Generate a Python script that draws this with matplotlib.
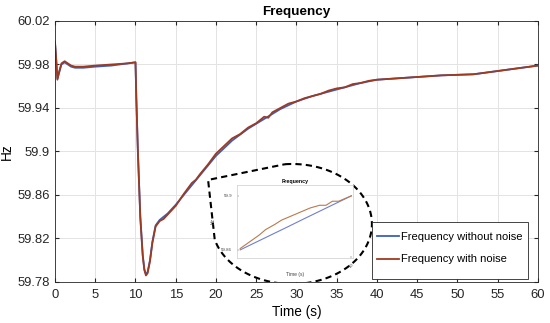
import numpy as np
import matplotlib
matplotlib.use("Agg")
import matplotlib.pyplot as plt
from matplotlib.patches import PathPatch, Rectangle
from matplotlib.path import Path

plt.rcParams['font.family'] = ['Liberation Sans', 'DejaVu Sans']

# main curves
t_clean = [0, 0.15, 0.3, 0.5, 0.8, 1.2, 1.6, 2.0, 2.5, 3.5, 5, 7, 9, 10, 10.1, 10.3,
           10.6, 10.9, 11.1, 11.3, 11.5, 11.8, 12.1, 12.5, 13, 14, 15, 16, 17, 18, 19, 20,
           22, 24, 26, 28, 30, 32, 34, 36, 38, 40, 42, 44, 46, 48, 50, 52, 54, 56, 58, 60]
f_clean = [60.000, 59.985, 59.967, 59.972, 59.980, 59.982, 59.980, 59.978, 59.977, 59.977,
           59.978, 59.979, 59.981, 59.982, 59.950, 59.900, 59.840, 59.805, 59.792, 59.787,
           59.789, 59.800, 59.817, 59.832, 59.837, 59.843, 59.851, 59.860, 59.869, 59.878,
           59.887, 59.896, 59.910, 59.921, 59.930, 59.939, 59.946, 59.951, 59.955, 59.959,
           59.963, 59.966, 59.967, 59.968, 59.969, 59.970, 59.9705, 59.971, 59.973, 59.975,
           59.977, 59.979]

t_noisy = [0, 0.15, 0.3, 0.5, 0.8, 1.2, 1.6, 2.0, 2.5, 3.5, 5, 7, 9, 10, 10.1, 10.3,
           10.6, 10.9, 11.1, 11.3, 11.5, 11.8, 12.1, 12.5, 13, 13.5, 14, 14.5, 15, 16, 17,
           17.5, 18, 19, 20, 21, 22, 23, 24, 25, 26, 26.5, 27, 28, 29, 30, 31, 32, 33, 34,
           35, 36, 37, 38, 39, 40, 42, 44, 46, 48, 50, 52, 54, 56, 58, 60]
f_noisy = [60.001, 59.984, 59.966, 59.973, 59.981, 59.983, 59.981, 59.979, 59.978, 59.978,
           59.979, 59.980, 59.981, 59.982, 59.950, 59.899, 59.839, 59.804, 59.791, 59.786,
           59.788, 59.799, 59.816, 59.831, 59.836, 59.838, 59.842, 59.846, 59.850, 59.861,
           59.871, 59.874, 59.879, 59.888, 59.898, 59.905, 59.912, 59.916, 59.922, 59.926,
           59.932, 59.931, 59.936, 59.940, 59.944, 59.946, 59.949, 59.951, 59.953, 59.956,
           59.958, 59.959, 59.962, 59.963, 59.965, 59.966, 59.967, 59.968, 59.969, 59.970,
           59.9705, 59.971, 59.973, 59.975, 59.977, 59.979]

# zoomed inset
ins_t = [16.5, 17, 17.5, 18, 18.5, 19, 19.5, 20]
ins_clean = [59.860, 59.8657, 59.8714, 59.8771, 59.8829, 59.8886, 59.8943, 59.900]
ins_t_n = [16.5, 16.8, 17.1, 17.3, 17.6, 17.8, 18.0, 18.3, 18.5, 18.7, 19.0, 19.2, 19.4, 19.6, 19.8, 20]
ins_noisy = [59.861, 59.866, 59.871, 59.875, 59.879, 59.882, 59.884, 59.887, 59.889, 59.891,
             59.893, 59.893, 59.896, 59.896, 59.898, 59.900]

blue = '#3a5fbf'
red = '#9e3a20'

fig = plt.figure(figsize=(5.5, 3.23), dpi=100)
ax = fig.add_axes([0.1, 0.127, 0.878, 0.808])

ax.plot(t_clean, f_clean, color=blue, lw=1.3, label='Frequency without noise')
ax.plot(t_noisy, f_noisy, color=red, lw=1.3, label='Frequency with noise')

ax.set_xlim(0, 60)
ax.set_ylim(59.78, 60.02)
ax.set_xticks(np.arange(0, 61, 5))
ax.set_yticks([59.78, 59.82, 59.86, 59.9, 59.94, 59.98, 60.02])
ax.set_yticklabels(['59.78', '59.82', '59.86', '59.9', '59.94', '59.98', '60.02'])
ax.tick_params(direction='in', top=True, right=True, labelsize=9.4, colors='#262626', length=3)
ax.tick_params(axis='x', pad=5)
ax.grid(True, color='#e3e3e3', lw=0.7)
for s in ax.spines.values():
    s.set_color('#262626')
    s.set_linewidth(0.6)
ax.set_title('Frequency', fontsize=9.7, fontweight='bold', pad=4)
ax.set_xlabel('Time (s)', fontsize=9.8, labelpad=3)
ax.set_ylabel('Hz', fontsize=9.8, labelpad=3)

# legend: frame drawn separately (tall box, narrow side padding like the original)
lx0, ly0, lx1, ly1 = 0.656, 0.0115, 0.979, 0.23
ax.add_patch(Rectangle((lx0, ly0), lx1 - lx0, ly1 - ly0, transform=ax.transAxes,
                       facecolor='white', edgecolor='#262626', lw=0.6, zorder=6))
leg = ax.legend(loc='center', bbox_to_anchor=(lx0, ly0 + 0.008, lx1 - lx0, ly1 - ly0),
                fontsize=8, frameon=False, handlelength=2.0, borderpad=0.3,
                labelspacing=1.1, handletextpad=0.2, borderaxespad=0)
leg.set_zorder(7)

# dashed bubble around the inset (axes fraction coords)
cx, cy, a, b = 0.4907, 0.2222, 0.1656, 0.2299
ang = np.radians(np.linspace(95, -165, 120))
xs = cx + a * np.cos(ang)
ys = cy + b * np.sin(ang)
verts = list(zip(xs, ys)) + [(0.317, 0.391), (xs[0], ys[0])]
bubble = PathPatch(Path(verts), transform=ax.transAxes, facecolor='white',
                   edgecolor='black', lw=1.5, ls=(0, (3, 2)), zorder=4)
ax.add_patch(bubble)

ins = fig.add_axes([237 / 550, 1 - 258 / 323, 116 / 550, 73 / 323], zorder=5)
ins.plot(ins_t, ins_clean, color='#6f7fd0', lw=0.8)
ins.plot(ins_t_n, ins_noisy, color='#b97a4c', lw=0.8)
ins.set_xlim(16.4, 20.05)
ins.set_ylim(59.854, 59.908)
ins.set_yticks([59.86, 59.9])
ins.set_yticklabels(['59.86', '59.9'])
ins.set_xticks([20])
ins.set_xticklabels(['20'], rotation=45)
ins.tick_params(direction='in', labelsize=3.2, length=1.5, width=0.3, colors='#444444')
for s in ins.spines.values():
    s.set_color('#cccccc')
    s.set_linewidth(0.5)
ins.set_title('Frequency', fontsize=3.8, fontweight='bold', pad=1.5)
ins.set_xlabel('Time (s)', fontsize=3.6, labelpad=2, color='#444444')
ins.set_ylabel('Hz', fontsize=3.6, labelpad=4, color='#444444')

fig.savefig('out.png', dpi=100)
